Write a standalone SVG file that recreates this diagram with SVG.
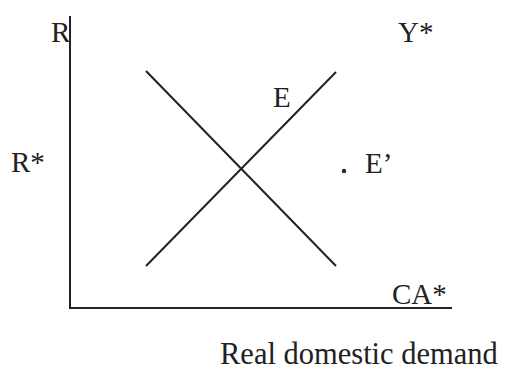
<svg xmlns="http://www.w3.org/2000/svg" width="505" height="371" viewBox="0 0 505 371">
<style>
.t{font-family:"Liberation Serif","Times New Roman",serif;font-size:29px;fill:#222}
.l{stroke:#222;stroke-width:2;fill:none}
</style>
<rect width="505" height="371" fill="#fff"/>
<g id="axes">
<line class="l" x1="70" y1="16" x2="70" y2="308"/>
<line class="l" x1="69" y1="308" x2="452" y2="308"/>
</g>
<g id="connectors">
<line class="l" x1="146" y1="71" x2="336" y2="266"/>
<line class="l" x1="146" y1="266" x2="336" y2="72"/>
</g>
<g id="point-E-prime">
<circle cx="344" cy="171" r="2.2" fill="#222"/>
</g>
<g id="labels">
<text class="t" x="51" y="42">R</text>
<text class="t" x="11" y="172">R*</text>
<text class="t" x="398" y="42">Y*</text>
<text class="t" x="273" y="107">E</text>
<text class="t" x="365" y="173">E’</text>
<text class="t" x="392" y="304">CA*</text>
<text class="t" x="220" y="364" style="font-size:30.5px">Real domestic demand</text>
</g>
</svg>
